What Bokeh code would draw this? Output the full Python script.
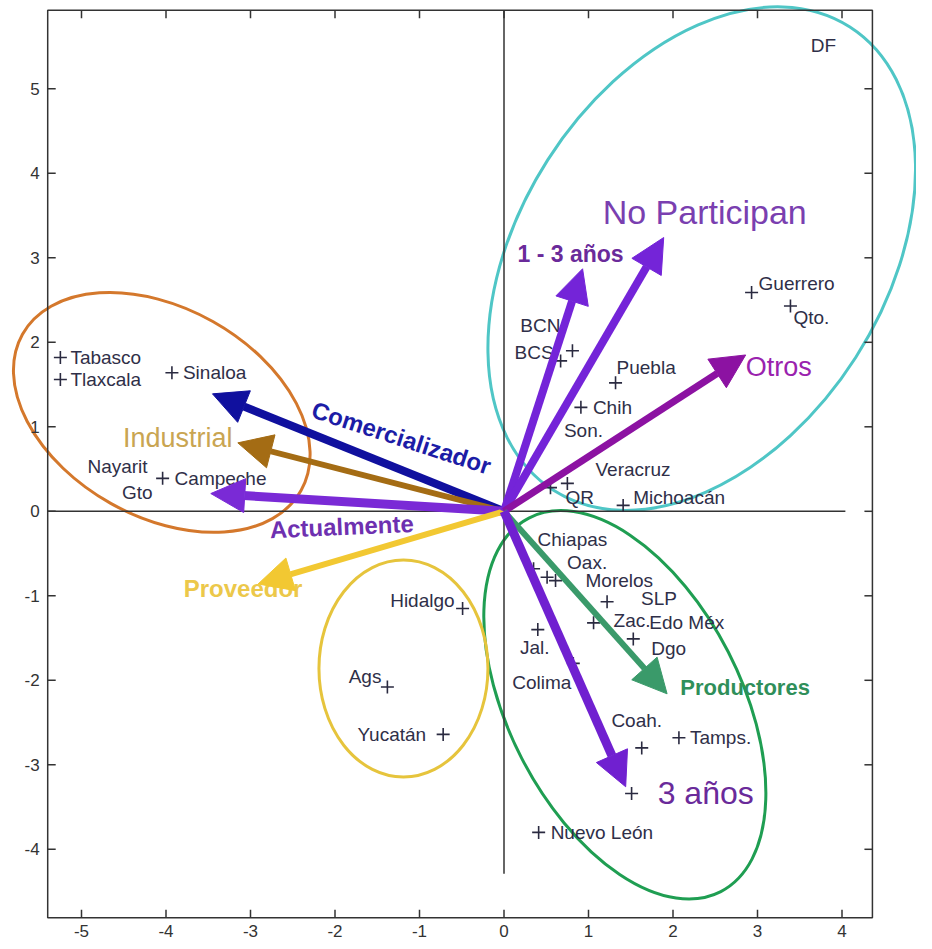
from bokeh.plotting import figure
from bokeh.models import Arrow, NormalHead, ColumnDataSource, Range1d
from bokeh.core.properties import value
from bokeh.embed import file_html
from bokeh.resources import INLINE

# ---------------- data ----------------
states = ["Tabasco", "Tlaxcala", "Sinaloa", "Campeche", "Nayarit", "Gto",
          "BCN", "BCS", "Puebla", "Chih", "Son.", "Guerrero", "Qto.",
          "Veracruz", "QR", "Michoacán", "DF",
          "Chiapas", "Oax.", "Morelos", "SLP", "Zac.", "Edo Méx", "Dgo",
          "Jal.", "Colima", "Coah.", "Tamps.", "", "Nuevo León",
          "Hidalgo", "Ags", "Yucatán"]
state_x = [-5.25, -5.25, -3.93, -4.04, -4.04, -4.04,
           0.81, 0.67, 1.32, 0.91, 0.91, 2.93, 3.39,
           0.55, 0.75, 1.41, 3.78,
           0.35, 0.51, 0.61, 1.22, 1.06, 1.53, 1.53,
           0.40, 0.82, 1.63, 2.07, 1.51, 0.41,
           -0.49, -1.38, -0.72]
state_y = [1.82, 1.56, 1.64, 0.39, 0.39, 0.39,
           1.90, 1.78, 1.52, 1.23, 1.23, 2.59, 2.43,
           0.28, 0.33, 0.07, 5.51,
           -0.68, -0.78, -0.82, -1.07, -1.32, -1.51, -1.51,
           -1.40, -1.80, -2.80, -2.68, -3.34, -3.80,
           -1.15, -2.08, -2.64]
state_marker = [True, True, True, True, False, False,
                True, True, True, True, False, True, True,
                True, True, True, False,
                True, True, True, True, True, False, True,
                True, True, True, True, True, True,
                True, True, True]

# label placement (screen pixels, y down) relative to each point
label_align = ["left", "left", "left", "left", "right", "right",
               "right", "right", "left", "left", "left", "left", "left",
               "left", "left", "left", "center",
               "left", "left", "left", "left", "left", "left", "left",
               "center", "right", "center", "left", "left", "left",
               "right", "right", "right"]
label_dx = [10, 10, 11, 12, -15, -10,
            -12, -7, 1, 12, -17, 7, 3,
            45, -2, 10, 0,
            4, 20, 30, 34, 20, 16, 18,
            -3, -2, -5, 11, 0, 12,
            -8, -6, -17]
label_dy = [0, 0, 0, 0, -12, 14,
            -25, -8, -15, 0, 23, -9, 12,
            -18, 14, -8, 0,
            -29, -15, 0, -3, -2, -16, 10,
            18, 19, -27, 0, 0, 0,
            -8, -11, 0]

# variable vectors (arrow tips)
vectors = ["Comercializador", "Industrial", "Actualmente", "Proveedor",
           "1 - 3 años", "No Participan", "Otros", "Productores", "3 años"]
vec_x = [-3.45, -3.15, -3.47, -2.91, 0.93, 1.89, 2.86, 1.93, 1.44]
vec_y = [1.39, 0.81, 0.21, -0.86, 2.87, 3.24, 1.85, -2.16, -3.26]

# group ellipses
groups = ["orange", "cyan", "green", "yellow"]
grp_x = [-4.05, 2.34, 1.43, -1.19]
grp_y = [1.17, 2.99, -2.29, -1.86]
grp_w = [3.78, 6.51, 4.97, 2.00]
grp_h = [2.47, 4.33, 2.75, 2.57]
grp_angle = [-29.3, 57.4, -62.8, 0.0]

x_ticks = [-5, -4, -3, -2, -1, 0, 1, 2, 3, 4]
y_ticks = [-4, -3, -2, -1, 0, 1, 2, 3, 4, 5]

# ---------------- layout / styles ----------------
W, H = 916, 941
PX = 84.5                 # pixels per data unit (both axes)
X0, Y0 = 503.5, 510.8     # canvas position of the origin
box_l, box_r, box_b, box_t = -5.40, 4.36, -4.81, 5.93
zero_h_end, zero_v_end = 4.04, -4.29
TICK = 8 / PX

grp_colors = ["#d4782c", "#4fc6c6", "#1f9e52", "#e6c43c"]
vec_colors = ["#10109e", "#a46c14", "#7a2ad6", "#f2c832",
              "#7424d8", "#7424d8", "#8c12a2", "#3a9a6a", "#7020d0"]
vec_widths = [8, 6, 9, 6, 8, 8, 7, 6, 9]
lab_colors = ["#1c1ca6", "#c9a552", "#6e30b0", "#ecc84a",
              "#6a2a9a", "#7a3fb0", "#9a22ae", "#2f8f5a", "#6a2a9a"]
lab_sizes = ["24px", "27px", "24px", "24px", "23px", "34px", "27px", "22px", "32px"]
lab_bold = [True, False, True, True, True, False, False, True, False]
lab_angle = [-18, 0, 2.5, 0, 0, 0, 0, 0, 0]
lab_dx = [189, -60, 131, -15, -12, 41, 33, 78, 80]
lab_dy = [44, -5, 33, 5, -15, -26, 12, -6, 6]

FONT = "Liberation Sans"
AXC = "#333333"

p = figure(width=W, height=H,
           x_range=Range1d(-X0 / PX, (W - X0) / PX),
           y_range=Range1d((Y0 - H) / PX, Y0 / PX),
           output_backend="svg", toolbar_location=None,
           min_border=0, x_axis_location=None, y_axis_location=None)
p.xgrid.visible = False
p.ygrid.visible = False
p.outline_line_color = None
p.background_fill_color = "white"
p.border_fill_color = "white"

# ellipses (drawn first, not clipped by the axes box)
p.ellipse(x=grp_x, y=grp_y, width=grp_w, height=grp_h, angle=grp_angle,
          angle_units="deg", fill_color=None, line_color=grp_colors, line_width=3)

# axes box
p.quad(left=[box_l], right=[box_r], bottom=[box_b], top=[box_t],
       fill_color=None, line_color=AXC, line_width=1.5)

# inward ticks on all four sides
nx, ny = len(x_ticks), len(y_ticks)
p.segment(x0=x_ticks, y0=[box_b] * nx, x1=x_ticks, y1=[box_b + TICK] * nx,
          line_color=AXC, line_width=1.5)
p.segment(x0=x_ticks, y0=[box_t] * nx, x1=x_ticks, y1=[box_t - TICK] * nx,
          line_color=AXC, line_width=1.5)
p.segment(x0=[box_l] * ny, y0=y_ticks, x1=[box_l + TICK] * ny, y1=y_ticks,
          line_color=AXC, line_width=1.5)
p.segment(x0=[box_r] * ny, y0=y_ticks, x1=[box_r - TICK] * ny, y1=y_ticks,
          line_color=AXC, line_width=1.5)

# tick labels
p.text(x=x_ticks, y=[box_b] * nx, text=[str(t) for t in x_ticks], y_offset=13,
       text_font=value(FONT), text_font_size=value("17px"), text_color=AXC,
       text_align="center", text_baseline="middle")
p.text(x=[box_l] * ny, y=y_ticks, text=[str(t) for t in y_ticks], x_offset=-8,
       text_font=value(FONT), text_font_size=value("17px"), text_color=AXC,
       text_align="right", text_baseline="middle")

# zero lines
p.segment(x0=[box_l, 0], y0=[0, box_t], x1=[zero_h_end, 0], y1=[0, zero_v_end],
          line_color=AXC, line_width=1.5)

# arrows
for i, name in enumerate(vectors):
    c = vec_colors[i]
    p.add_layout(Arrow(end=NormalHead(size=34, fill_color=c, line_color=c, line_width=1),
                       x_start=0, y_start=0, x_end=vec_x[i], y_end=vec_y[i],
                       line_color=c, line_width=vec_widths[i]))

# state markers
mx = [x for x, m in zip(state_x, state_marker) if m]
my = [y for y, m in zip(state_y, state_marker) if m]
p.scatter(mx, my, marker="cross", size=13, line_color="#2a2a40", line_width=1.6)

# state labels
for al in ["left", "right", "center"]:
    idx = [i for i in range(len(states)) if label_align[i] == al and states[i]]
    src = ColumnDataSource(dict(x=[state_x[i] for i in idx], y=[state_y[i] for i in idx],
                                t=[states[i] for i in idx],
                                dx=[label_dx[i] for i in idx], dy=[label_dy[i] for i in idx]))
    p.text(x="x", y="y", text="t", x_offset="dx", y_offset="dy", source=src,
           text_font=value(FONT), text_font_size=value("19px"), text_color="#2f2f48",
           text_align=al, text_baseline="middle")

# vector labels
for i, name in enumerate(vectors):
    p.text(x=[vec_x[i]], y=[vec_y[i]], text=[name], x_offset=lab_dx[i], y_offset=lab_dy[i],
           angle=lab_angle[i], angle_units="deg",
           text_font=value(FONT), text_font_size=value(lab_sizes[i]),
           text_font_style="bold" if lab_bold[i] else "normal",
           text_color=lab_colors[i], text_align="center", text_baseline="middle")

open("out.html", "w").write(file_html(p, INLINE))
